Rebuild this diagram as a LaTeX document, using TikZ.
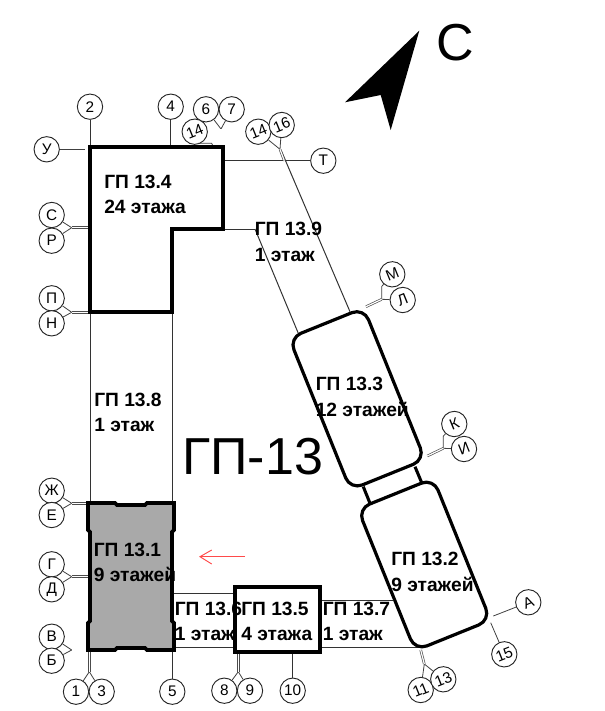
\documentclass[tikz,border=0pt]{standalone}
\usepackage{fontspec}
\setmainfont{Liberation Sans}
\usetikzlibrary{arrows.meta}
\definecolor{flat}{HTML}{A9A9A9}
\definecolor{redline}{HTML}{FF4A4A}
\newcommand{\twolines}[2]{\vtop{\baselineskip=19.3pt\hbox{#1}\hbox{#2}}}
\tikzset{
  ax/.style={circle,draw=black!85,line width=.7pt,minimum size=19pt,inner sep=0pt,font=\fontsize{11.5}{13}\selectfont,fill=white},
  axr/.style={ax,rotate=22},
  thin line/.style={draw=black!80,line width=.75pt},
  lead/.style={draw=black!75,line width=.6pt},
  dbl/.style={draw=black!70,line width=.5pt,double=white,double distance=.9pt},
  wall/.style={draw=black,line width=2.9pt,miter limit=10},
  tower/.style={draw=black,line width=2.4pt,rounded corners=9.5pt,rotate=22,inner sep=0pt},
  lbl/.style={anchor=base west,inner sep=0pt,font=\fontsize{14.4}{16}\bfseries\selectfont},
}
\begin{document}
\begin{tikzpicture}[x=.75pt,y=-.75pt]
\useasboundingbox (0,0) rectangle (605,711);
% free ends and leader vertices
\coordinate (b4tl) at (90,147);
\coordinate (b4top4) at (170.7,147);
\coordinate (b4tr) at (222.7,160.7);
\coordinate (b4in) at (222.7,229);
\coordinate (n1a) at (90,312);
\coordinate (n1b) at (90,503);
\coordinate (n2a) at (172,312);
\coordinate (n2b) at (172,503);
\coordinate (g6a) at (173,593);
\coordinate (g6b) at (235,593);
\coordinate (g6c) at (173,647);
\coordinate (g6d) at (235,647);
\coordinate (g7a) at (320,600);
\coordinate (g7b) at (393,600);
\coordinate (g7c) at (320,647);
\coordinate (g7d) at (420,647);
\coordinate (g9a) at (255,229);
\coordinate (g9b) at (298.3,333.3);
\coordinate (g9c) at (281.7,151.7);
\coordinate (g9d) at (350,311.7);
\coordinate (l1) at (363.3,486.7);
\coordinate (l2) at (370,503.3);
\coordinate (l3) at (415,466.7);
\coordinate (l4) at (421.7,482.7);
\coordinate (vy) at (85,149.3);
\coordinate (v14a) at (198,143.3);
\coordinate (v14b) at (211.7,143.3);
\coordinate (v14c) at (213,146);
\coordinate (v67) at (221,129);
\coordinate (v67e) at (221,146);
\coordinate (v1416) at (280,149.3);
\coordinate (v1416e) at (284.3,160.7);
\coordinate (vml) at (381.7,299.3);
\coordinate (vmle) at (366,306.7);
\coordinate (vki) at (443.3,448.3);
\coordinate (vkie) at (427.3,456);
\coordinate (va) at (493.3,616);
\coordinate (v15) at (490.7,622.7);
\coordinate (v1113) at (424.3,664);
\coordinate (v1113e) at (420.7,650);
\coordinate (v89) at (238.3,671.7);
\coordinate (v89e) at (238.3,652);
\coordinate (v10e) at (292.7,652);
\coordinate (v13) at (89.3,671.7);
\coordinate (v13e) at (89.3,650);
\coordinate (v5e) at (172.3,650);
\coordinate (vzh) at (71.7,503.3);
\coordinate (vzhe) at (88,503.3);
\coordinate (vg) at (71.7,576.7);
\coordinate (vge) at (90,576.7);
\coordinate (vv) at (71.7,650);
\coordinate (vve) at (88,650);
\coordinate (vp) at (71.7,312.3);
\coordinate (vpe) at (90,312.3);
\coordinate (vs) at (71.7,227.7);
\coordinate (vse) at (90,227.7);
\coordinate (arrowtip) at (200,556.7);
\coordinate (arrowtail) at (245,556.7);
\coordinate (arrowa) at (211.7,550);
\coordinate (arrowb) at (211.7,564);
% axis circles
\node[ax] (a2) at (90,106.7) {2};
\node[ax] (a4) at (170.7,106.7) {4};
\node[ax] (a6) at (206,109.3) {6};
\node[ax] (a7) at (231.7,109.3) {7};
\node[axr] (a14a) at (194.7,131.7) {14};
\node[axr] (a14b) at (258.3,131.7) {14};
\node[axr] (a16) at (281.7,125) {16};
\node[ax] (aT) at (323.3,160.7) {Т};
\node[ax] (aU) at (46.7,149.3) {У};
\node[ax] (aS) at (51.7,215) {С};
\node[ax] (aR) at (51.7,240.7) {Р};
\node[ax] (aP) at (51.7,298.3) {П};
\node[ax] (aN) at (51.7,323.3) {Н};
\node[ax] (aZh) at (51.7,490.7) {Ж};
\node[ax] (aE) at (51.7,515) {Е};
\node[ax] (aG) at (51.7,564.3) {Г};
\node[ax] (aD) at (51.7,589.3) {Д};
\node[ax] (aV) at (51.7,636.7) {В};
\node[ax] (aB) at (51.7,660.7) {Б};
\node[ax] (a1) at (76,691.7) {1};
\node[ax] (a3) at (101.7,691.7) {3};
\node[ax] (a5) at (172.3,691.7) {5};
\node[ax] (a8) at (224.3,690.7) {8};
\node[ax] (a9) at (250,690.7) {9};
\node[ax] (a10) at (292.7,690.7) {10};
\node[axr] (a11) at (420.7,690) {11};
\node[axr] (a13) at (443.3,679.3) {13};
\node[axr] (a15) at (504.3,654.3) {15};
\node[axr] (aA) at (528.3,602.3) {А};
\node[axr] (aM) at (392.3,274.3) {М};
\node[axr] (aL) at (402.7,300) {Л};
\node[axr] (aK) at (454.3,424) {К};
\node[axr] (aI) at (464,449) {И};
% plain walls
\draw[thin line] (n1a) -- (n1b);
\draw[thin line] (n2a) -- (n2b);
\draw[thin line] (g6a) -- (g6b);
\draw[thin line] (g6c) -- (g6d);
\draw[thin line] (g7a) -- (g7b);
\draw[thin line] (g7c) -- (g7d);
\draw[thin line] (g9a) -- (g9b);
\draw[thin line] (g9c) -- (g9d);
\draw[thin line] (b4in) -- (g9a);
\draw[thin line] (b4tr) -- (aT);
% leaders
\draw[thin line] (a2) -- (b4tl);
\draw[thin line] (a4) -- (b4top4);
\draw[lead] (aU) -- (vy);
\draw[lead] (v14a) -- (v14b) -- (v14c);
\draw[lead] (a6) -- (v67);
\draw[lead] (a7) -- (v67);
\draw[dbl] (v67) -- (v67e);
\draw[lead] (a14b) -- (v1416);
\draw[lead] (a16) -- (v1416);
\draw[dbl] (v1416) -- (v1416e);
\draw[lead] (aM) -- (vml |- aM.south) -- (vml);
\draw[lead] (aL) -- (vml);
\draw[dbl] (vml) -- (vmle);
\draw[lead] (aK) -- (vki |- aK.south) -- (vki);
\draw[lead] (aI) -- (vki);
\draw[dbl] (vki) -- (vkie);
\draw[lead] (aA) -- (va);
\draw[lead] (a15) -- (v15);
\draw[lead] (a11) -- (v1113);
\draw[lead] (a13) -- (v1113);
\draw[dbl] (v1113) -- (v1113e);
\draw[lead] (a8) -- (v89);
\draw[lead] (a9) -- (v89);
\draw[dbl] (v89) -- (v89e);
\draw[thin line] (a10) -- (v10e);
\draw[lead] (a1) -- (v13);
\draw[lead] (a3) -- (v13);
\draw[dbl] (v13) -- (v13e);
\draw[thin line] (a5) -- (v5e);
\draw[lead] (aZh) -- (vzh);
\draw[lead] (aE) -- (vzh);
\draw[dbl] (vzh) -- (vzhe);
\draw[lead] (aG) -- (vg);
\draw[lead] (aD) -- (vg);
\draw[dbl] (vg) -- (vge);
\draw[lead] (aV) -- (vv);
\draw[lead] (aB) -- (vv);
\draw[dbl] (vv) -- (vve);
\draw[lead] (aP) -- (vp);
\draw[lead] (aN) -- (vp);
\draw[dbl] (vp) -- (vpe);
\draw[lead] (aS) -- (vs);
\draw[lead] (aR) -- (vs);
\draw[dbl] (vs) -- (vse);
% buildings
\draw[wall,line join=miter] (90,147) -- (222.7,147) -- (222.7,229) -- (172,229) -- (172,312) -- (90,312) -- cycle;
\draw[wall,fill=flat] (88,503) -- (115,503) -- (117,505) -- (145,505) -- (147,503) -- (174,503) -- (174,530) -- (172,532) -- (172,621) -- (174,623) -- (174,650) -- (147,650) -- (145,648) -- (117,648) -- (115,650) -- (88,650) -- (88,623) -- (90,621) -- (90,532) -- (88,530) -- cycle;
\node[draw=black,line width=2.7pt,minimum width=63.75pt,minimum height=48.75pt,inner sep=0pt] (b5) at (277.5,619.5) {};
\node[tower,minimum width=61pt,minimum height=114.7pt] (b2) at (424.2,564.5) {};
\node[tower,minimum width=60.3pt,minimum height=122.7pt] (b3) at (357.1,398.8) {};
\draw[draw=black,line width=2.3pt] (l1) -- (l2);
\draw[draw=black,line width=2.3pt] (l3) -- (l4);
% labels
\node[lbl] (t4) at (104,188) {\twolines{ГП 13.4}{24 этажа}};
\node[lbl] (t9) at (254.5,235.7) {\twolines{ГП 13.9}{1 этаж}};
\node[lbl] (t8) at (94,406) {\twolines{ГП 13.8}{1 этаж}};
\node[lbl] (t1) at (93.5,556) {\twolines{ГП 13.1}{9 этажей}};
\node[lbl] (t6) at (174.5,615) {\twolines{ГП 13.6}{1 этаж}};
\node[lbl] (t5) at (241,615) {\twolines{ГП 13.5}{4 этажа}};
\node[lbl] (t7) at (322.5,615) {\twolines{ГП 13.7}{1 этаж}};
\node[lbl] (t2) at (391,565.7) {\twolines{ГП 13.2}{9 этажей}};
\node[lbl] (t3) at (315.5,390.7) {\twolines{ГП 13.3}{12 этажей}};
\node[anchor=base west,inner sep=0pt,font=\fontsize{39}{42}\selectfont] (title) at (182,474.5) {ГП-13};
\node[anchor=base west,inner sep=0pt,font=\fontsize{39}{42}\selectfont] (north) at (436,60.5) {С};
% north arrow
\fill[black] (419.3,30.7) -- (345,102.3) -- (380.7,95) -- (390.7,130) -- cycle;
% red arrow
\draw[redline,line width=.7pt] (arrowtail) -- (arrowtip);
\draw[redline,line width=.7pt] (arrowa) -- (arrowtip) -- (arrowb);
\end{tikzpicture}
\end{document}
